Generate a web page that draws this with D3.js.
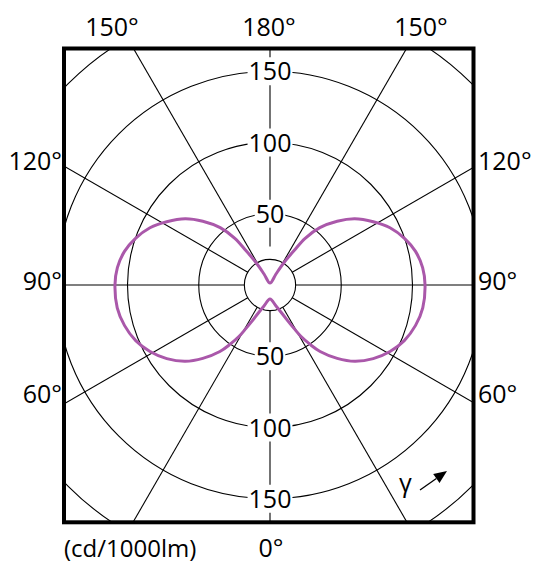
<!DOCTYPE html>
<html>
<head>
<meta charset="utf-8">
<script src="https://cdn.jsdelivr.net/npm/d3@7"></script>
<style>
  html, body { margin: 0; padding: 0; background: #fff; }
  svg { display: block; }
  text { font-family: "Open Sans", sans-serif; fill: #000; }
</style>
</head>
<body>
<script>
// ---------------- data ----------------
const angleTicks   = [0, 30, 60, 90, 120, 150, 180];      // radial grid lines (deg from nadir)
const ringValues   = [50, 100, 150, 200];                 // cd/1000lm rings
const innerRing    = 18;                                  // small central ring
const radialLabels = [50, 100, 150];
const topAngleLabels   = ["150°", "180°", "150°"];
const sideAngleLabels  = ["120°", "90°", "60°"];
const bottomAngleLabel = "0°";
const unitLabel = "(cd/1000lm)";
const arrowLabel = "γ";

// luminous intensity (cd/1000lm) vs gamma (deg), one half of the C-plane (symmetric)
const gamma     = [0, 16, 23, 26.5, 29, 31, 34, 37, 42.5, 48, 54.5, 61, 67.5, 74.5, 81.5, 90,
                   96.5, 103, 109, 115.5, 121.5, 128, 133.5, 139, 143, 145, 148, 151.5, 180];
const intensity = [9.8, 15.3, 21.7, 28.3, 35, 42, 50.3, 58.4, 69.8, 80, 89, 96.3, 102, 106, 108.4, 108.8,
                   107.8, 104.8, 100, 93.3, 85, 75.5, 65, 53.3, 41, 29.5, 18.6, 8.8, 1.4];

// ---------------- layout ----------------
const W = 547, H = 588;
const cx = 270, cy = 285;
const box = { left: 64, right: 473.5, top: 48.5, bottom: 522.3 };
const curveColor = "#aa58aa";
const fontSize = 25;

const svg = d3.select("body").append("svg").attr("width", W).attr("height", H);

const r = d3.scaleLinear().domain([0, 50]).range([0, 71.25]);
const rad = d => d * Math.PI / 180;

svg.append("clipPath").attr("id", "boxclip")
  .append("rect")
  .attr("x", box.left).attr("y", box.top)
  .attr("width", box.right - box.left).attr("height", box.bottom - box.top);

const g = svg.append("g").attr("clip-path", "url(#boxclip)");
const c = g.append("g").attr("transform", `translate(${cx},${cy})`);

// rings
c.selectAll("circle.ring").data(ringValues.concat([innerRing])).join("circle")
  .attr("class", "ring")
  .attr("r", d => r(d))
  .attr("fill", "none").attr("stroke", "#000").attr("stroke-width", 1.1);

// radial lines (both halves); d3 radial angle a = pi - gamma (right), pi + gamma (left)
const spokes = [];
angleTicks.forEach(a => {
  spokes.push({ ang: Math.PI - rad(a), start: a === 180 ? 27 : innerRing });
  if (a !== 0 && a !== 180) spokes.push({ ang: Math.PI + rad(a), start: innerRing });
});
c.selectAll("line.spoke").data(spokes).join("line")
  .attr("class", "spoke")
  .attr("x1", d => r(d.start) * Math.sin(d.ang))
  .attr("y1", d => -r(d.start) * Math.cos(d.ang))
  .attr("x2", d => r(400) * Math.sin(d.ang))
  .attr("y2", d => -r(400) * Math.cos(d.ang))
  .attr("stroke", "#000").attr("stroke-width", 1.1);

// radial value labels (above and below the centre) with white backgrounds
const labelData = [];
radialLabels.forEach(v => { labelData.push({ v, y: -r(v) }); labelData.push({ v, y: r(v) }); });
const lg = c.selectAll("g.rlab").data(labelData).join("g").attr("class", "rlab")
  .attr("transform", d => `translate(0,${d.y})`);
lg.append("text")
  .attr("text-anchor", "middle").attr("dy", "0.36em")
  .attr("font-size", fontSize)
  .text(d => d.v);
lg.each(function () {
  const t = d3.select(this).select("text");
  const bb = t.node().getBBox();
  d3.select(this).insert("rect", "text")
    .attr("x", bb.x - 1).attr("width", bb.width + 2)
    .attr("y", -14).attr("height", 28)
    .attr("fill", "#fff");
});

// intensity curve (closed, mirrored)
const pts = [];
gamma.forEach((gm, i) => pts.push([Math.PI - rad(gm), r(intensity[i])]));
for (let i = gamma.length - 2; i >= 1; i--) pts.push([Math.PI + rad(gamma[i]), r(intensity[i])]);
const lineR = d3.lineRadial().angle(d => d[0]).radius(d => d[1]).curve(d3.curveCatmullRomClosed.alpha(0.5));
c.append("path").attr("d", lineR(pts))
  .attr("fill", "none").attr("stroke", curveColor).attr("stroke-width", 3)
  .attr("stroke-linejoin", "round");

// frame
svg.append("rect")
  .attr("x", box.left).attr("y", box.top)
  .attr("width", box.right - box.left).attr("height", box.bottom - box.top)
  .attr("fill", "none").attr("stroke", "#000").attr("stroke-width", 4);

// angle labels
const topX = [112, 269, 421];
svg.selectAll("text.top").data(topAngleLabels).join("text").attr("class", "top")
  .attr("x", (d, i) => topX[i]).attr("y", 36)
  .attr("text-anchor", "middle").attr("font-size", fontSize).text(d => d);

const sideY = [170, 290, 403];
svg.selectAll("text.left").data(sideAngleLabels).join("text").attr("class", "left")
  .attr("x", 62).attr("y", (d, i) => sideY[i])
  .attr("text-anchor", "end").attr("font-size", fontSize).text(d => d);
svg.selectAll("text.right").data(sideAngleLabels).join("text").attr("class", "right")
  .attr("x", 478).attr("y", (d, i) => sideY[i])
  .attr("text-anchor", "start").attr("font-size", fontSize).text(d => d);

svg.append("text").attr("x", 271).attr("y", 557).attr("text-anchor", "middle")
  .attr("font-size", fontSize).text(bottomAngleLabel);
svg.append("text").attr("x", 64).attr("y", 557).attr("text-anchor", "start")
  .attr("font-size", fontSize - 1).text(unitLabel);

// gamma arrow
svg.append("text").attr("x", 399).attr("y", 492).attr("text-anchor", "start")
  .attr("font-size", fontSize).text(arrowLabel);
const a0 = [420, 490], a1 = [447, 471];
const dx = a1[0] - a0[0], dy = a1[1] - a0[1], L = Math.hypot(dx, dy);
const ux = dx / L, uy = dy / L, hl = 13, hw = 5.5;
const bx = a1[0] - ux * hl, by = a1[1] - uy * hl;
svg.append("line").attr("x1", a0[0]).attr("y1", a0[1]).attr("x2", bx).attr("y2", by)
  .attr("stroke", "#000").attr("stroke-width", 1.3);
svg.append("polygon")
  .attr("points", [[a1[0], a1[1]], [bx - uy * hw, by + ux * hw], [bx + uy * hw, by - ux * hw]].map(p => p.join(",")).join(" "))
  .attr("fill", "#000");
</script>
</body>
</html>
